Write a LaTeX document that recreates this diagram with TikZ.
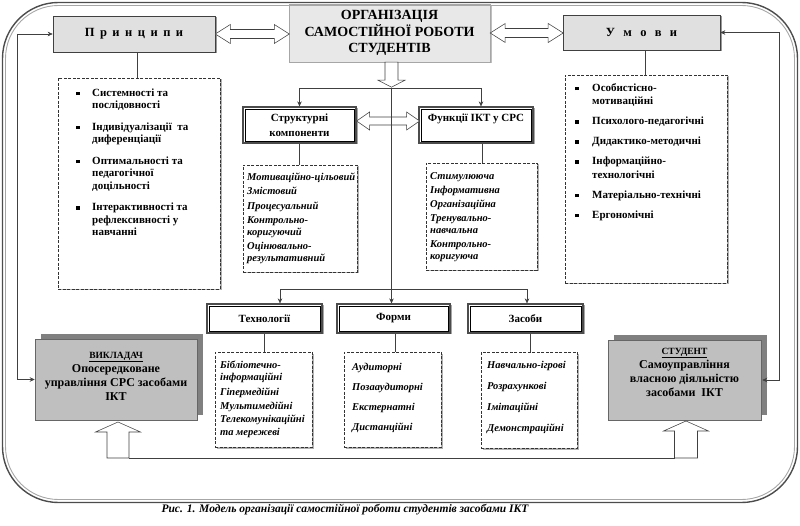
\documentclass[tikz,border=0pt]{standalone}
\usepackage{fontspec}
\setmainfont{Liberation Serif}
\usetikzlibrary{shadows,arrows.meta,calc}
\newcommand\bul{\rule[1.3pt]{3.6pt}{3.6pt}}
% horizontal hollow double arrow: start(left tip), length, head length, head half, shaft half
\newcommand\hdbl[5]{\draw[hollow] #1 -- ++(#3,-#4) -- ++(0,#4-#5) -- ++(#2-2*#3,0) -- ++(0,#5-#4) -- ++(#3,#4) -- ++(-#3,#4) -- ++(0,#5-#4) -- ++(-#2+2*#3,0) -- ++(0,#4-#5) -- cycle;}
% downward hollow arrow: start(top centre), shaft length, head length, head half, shaft half
\newcommand\hdown[5]{\draw[hollow] #1 ++(-#5,0) -- ++(0,#2) -- ++(#5-#4,0) -- ++(#4,#3) -- ++(#4,-#3) -- ++(#5-#4,0) -- ++(0,-#2) -- cycle;}
% upward hollow arrow: start(tip), head length, head half, shaft half, shaft length
\newcommand\hup[5]{\draw[hollow] #1 -- ++(#3,#2) -- ++(#4-#3,0) -- ++(0,#5) -- ++(-2*#4,0) -- ++(0,-#5) -- ++(#4-#3,0) -- cycle;}
\newcommand\lfont{\fontsize{11}{12.5}\selectfont\bfseries}
\begin{document}
\begin{tikzpicture}[x=1pt,y=-1pt,
 conn/.style={draw=black!75, line width=0.55pt},
 arr/.style={conn, -{Stealth[length=5pt,width=4.5pt]}},
 hollow/.style={draw=black!75, fill=white, line width=0.55pt},
 hdbox/.style={draw=black!75, fill=black!12, line width=0.6pt, inner sep=0pt,
   drop shadow={shadow xshift=1.5pt, shadow yshift=-1.5pt, fill=black!40, opacity=1}},
 dbbox/.style={draw=black!70, line width=1.2pt, fill=white, inner sep=0pt,
   drop shadow={shadow xshift=1.5pt, shadow yshift=-1.5pt, fill=black!35, opacity=1},
   font=\fontsize{11}{12.5}\selectfont\bfseries},
 inbox/.style={draw=black, line width=0.6pt},
 lbox/.style={draw=black!80, dash pattern=on 3pt off 1.5pt, line width=0.5pt, fill=white, inner sep=0pt,
   drop shadow={shadow xshift=1.5pt, shadow yshift=-1.5pt, fill=black!30, opacity=1}},
 gbox/.style={draw=black!60, fill=black!25, line width=0.5pt, inner sep=0pt,
   drop shadow={shadow xshift=6pt, shadow yshift=5pt, fill=black!50, opacity=1}},
 txt/.style={inner sep=0pt, anchor=base west},
 itl/.style={txt, font=\fontsize{10.5}{11.5}\selectfont\bfseries\itshape},
]
\useasboundingbox (0,0) rectangle (800,526);

% ---------- top row ----------
\node[draw=black!35, fill=black!9, minimum width=201pt, minimum height=58pt, inner sep=0pt,
  drop shadow={shadow xshift=1.5pt, shadow yshift=-1.5pt, fill=black!25, opacity=1},
  align=center, font=\fontsize{14}{16.5}\selectfont\bfseries] (org) at (389.5,33)
  {ОРГАНІЗАЦІЯ\\САМОСТІЙНОЇ РОБОТИ\\СТУДЕНТІВ};
\node[hdbox, minimum width=162pt, minimum height=36pt, font=\fontsize{12.5}{14}\selectfont\bfseries] (pr) at (134,34)
  {П\hspace{5.5pt}р\hspace{5.5pt}и\hspace{5.5pt}н\hspace{5.5pt}ц\hspace{5.5pt}и\hspace{5.5pt}п\hspace{5.5pt}и};
\node[hdbox, minimum width=157pt, minimum height=35pt, font=\fontsize{12.5}{14}\selectfont\bfseries] (um) at (641.5,32.5)
  {У\hspace{8.3pt}м\hspace{8.3pt}о\hspace{8.3pt}в\hspace{8.3pt}и};

% ---------- side lists ----------
\node[lbox, minimum width=162pt, minimum height=211pt] (prl) at (139,183.5) {};
\node[txt, font=\lfont] (prt) at (76,96.5) {\begin{tabular}[t]{@{}p{16pt}@{}l@{}}
 \bul & Системності та\\ & послідовності\\[9pt]
 \bul & Індивідуалізації\ \ та\\ & диференціації\\[9pt]
 \bul & Оптимальності та\\ & педагогічної\\ & доцільності\\[9pt]
 \bul & Інтерактивності та\\ & рефлексивності у\\ & навчанні
 \end{tabular}};
\node[lbox, minimum width=162pt, minimum height=208pt] (uml) at (646,179) {};
\node[txt, font=\fontsize{11}{13.5}\selectfont\bfseries] (umt) at (575,91.5) {\begin{tabular}[t]{@{}p{17pt}@{}l@{}}
 \bul & Особистісно-\\ & мотиваційні\\[6.5pt]
 \bul & Психолого-педагогічні\\[6.5pt]
 \bul & Дидактико-методичні\\[6.5pt]
 \bul & Інформаційно-\\ & технологічні\\[6.5pt]
 \bul & Матеріально-технічні\\[6.5pt]
 \bul & Ергономічні
 \end{tabular}};

% ---------- middle row ----------
\node[dbbox, minimum width=113pt, minimum height=36pt, align=center] (sk) at (299.5,125) {Структурні\\[3pt]компоненти};
\node[dbbox, minimum width=114pt, minimum height=36pt, align=center] (fk) at (476,125) {Функції ІКТ у СРС\\[3pt]\mbox{}};
\node[lbox, minimum width=114pt, minimum height=107pt] (skl) at (300,218.5) {};
\node[itl] (skt) at (247,180.5) {\begin{tabular}[t]{@{}l@{}}
 Мотиваційно-цільовий\\[3pt] Змістовий\\[3pt] Процесуальний\\[3pt] Контрольно-\\ коригуючий\\[3pt] Оцінювально-\\ результативний
 \end{tabular}};
\node[lbox, minimum width=111pt, minimum height=107pt] (fkl) at (481.5,216.5) {};
\node[itl, font=\fontsize{10.5}{12}\selectfont\bfseries\itshape] (fkt) at (430,179.5) {\begin{tabular}[t]{@{}l@{}}
 Стимулююча\\[2pt] Інформативна\\[2pt] Організаційна\\[2pt] Тренувально-\\ навчальна\\[2pt] Контрольно-\\ коригуюча
 \end{tabular}};

% ---------- lower row ----------
\node[dbbox, minimum width=115pt, minimum height=29pt] (tech) at (264.5,318.5) {Технології};
\node[dbbox, minimum width=113pt, minimum height=29pt] (form) at (393.5,318.5) {Форми};
\node[dbbox, minimum width=115pt, minimum height=29pt] (zas) at (525.5,318.5) {Засоби};
\foreach \n in {sk,fk,tech,form,zas}
  \draw[inbox] ([shift={(2.5,2.5)}]\n.north west) rectangle ([shift={(-2.5,-2.5)}]\n.south east);
\node[lbox, minimum width=97pt, minimum height=95pt] (techl) at (263.5,399.5) {};
\node[itl, font=\fontsize{10.5}{12.5}\selectfont\bfseries\itshape] (techt) at (220,368.5) {\begin{tabular}[t]{@{}l@{}}
 Бібліотечно-\\ інформаційні\\[1.5pt] Гіпермедійні\\[1.5pt] Мультимедійні\\[1.5pt] Телекомунікаційні\\ та мережеві
 \end{tabular}};
\node[lbox, minimum width=97pt, minimum height=95pt] (forml) at (392.5,399.5) {};
\node[itl] (formt) at (352,370.5) {\begin{tabular}[t]{@{}l@{}}
 Аудиторні\\[8.5pt] Позааудиторні\\[8.5pt] Екстернатні\\[8.5pt] Дистанційні
 \end{tabular}};
\node[lbox, minimum width=96pt, minimum height=96pt] (zasl) at (529,400) {};
\node[itl] (zast) at (487,368.5) {\begin{tabular}[t]{@{}l@{}}
 Навчально-ігрові\\[9.5pt] Розрахункові\\[9.5pt] Імітаційні\\[9.5pt] Демонстраційні
 \end{tabular}};

% ---------- bottom boxes ----------
\node[gbox, minimum width=162pt, minimum height=81pt] (vyk) at (116,379.5) {};
\node[align=center, inner sep=0pt, font=\fontsize{12}{14}\selectfont\bfseries] (vykt) at (116,376)
  {{\fontsize{9.5}{14}\selectfont\underline{ВИКЛАДАЧ}}\\Опосередковане\\управління СРС засобами\\ІКТ};
\node[gbox, minimum width=153pt, minimum height=80pt] (stud) at (684.5,380) {};
\node[align=center, inner sep=0pt, font=\fontsize{12}{14}\selectfont\bfseries] (studt) at (684.5,372)
  {{\fontsize{9.5}{14}\selectfont\underline{СТУДЕНТ}}\\Самоуправління\\власною діяльністю\\засобами\ \ ІКТ};

% ---------- hollow arrows ----------
\hdbl{(pr.east)}{74}{15}{9.5}{4.5}
\hdbl{(org.east)}{73}{15}{9.5}{4.5}
\hdbl{([yshift=4pt]sk.east)}{63}{13}{9}{4}
\hdown{([xshift=2pt]org.south)}{18}{7}{13.5}{6.5}
\coordinate (vtip) at (118,422);
\coordinate (stip) at (686,421);
\hup{(vtip)}{10}{22.5}{11}{26}
\hup{(stip)}{10}{22.5}{11.5}{27}
\coordinate (vbot) at (129,458);
\coordinate (sbot) at (674.5,458);
\draw[conn] (vbot) -- (sbot);

% ---------- connectors ----------
\coordinate (hub1) at (391.5,88);
\coordinate (hub2) at (391.5,289);
\draw[arr] (hub1) -| (sk.north);
\draw[arr] (hub1) -| ([xshift=5pt]fk.north);
\draw[conn] (hub1) -- (hub2);
\draw[arr] (hub2) -| ([xshift=15.5pt]tech.north);
\draw[arr] (hub2) -- (hub2 |- form.north);
\draw[arr] (hub2) -| ([xshift=1.5pt]zas.north);

\draw[conn] ([xshift=3pt]pr.south) -- ([xshift=3pt]pr.south |- prl.north);
\draw[conn] ([xshift=3.5pt]um.south) -- ([xshift=3.5pt]um.south |- uml.north);
\draw[conn] (sk.south) -- (sk.south |- skl.north);
\draw[conn] ([xshift=6pt]fk.south) -- ([xshift=6pt]fk.south |- fkl.north);
\draw[conn] (tech.south) -- (tech.south |- techl.north);
\draw[conn] ([xshift=1.5pt]form.south) -- ([xshift=1.5pt]form.south |- forml.north);
\draw[conn] ([xshift=4.5pt]zas.south) -- ([xshift=4.5pt]zas.south |- zasl.north);

\coordinate (lt) at (17,34);
\coordinate (lb) at (17,379.5);
\draw[arr] (lt) -- (pr.west);
\draw[arr] (lt) -- (lb) -- (vyk.west);
\coordinate (rt) at (779,32.5);
\coordinate (rb) at (779,380);
\draw[arr] (rt) -- (um.east);
\draw[arr] (rt) -- (rb) -- ([xshift=1pt]stud.east);

% ---------- outer frame ----------
\draw[black!70, line width=1.4pt, rounded corners=56pt] (2.5,2.5) rectangle (797.5,502.5);
\draw[black!35, line width=0.9pt, rounded corners=53pt] (5.5,5.5) rectangle (794.5,499.5);

% ---------- caption ----------
\node[inner sep=0pt, font=\fontsize{11.5}{13}\selectfont\bfseries\itshape] (cap) at (345,510)
  {Рис. 1. Модель організації самостійної роботи студентів засобами ІКТ};
\end{tikzpicture}
\end{document}
